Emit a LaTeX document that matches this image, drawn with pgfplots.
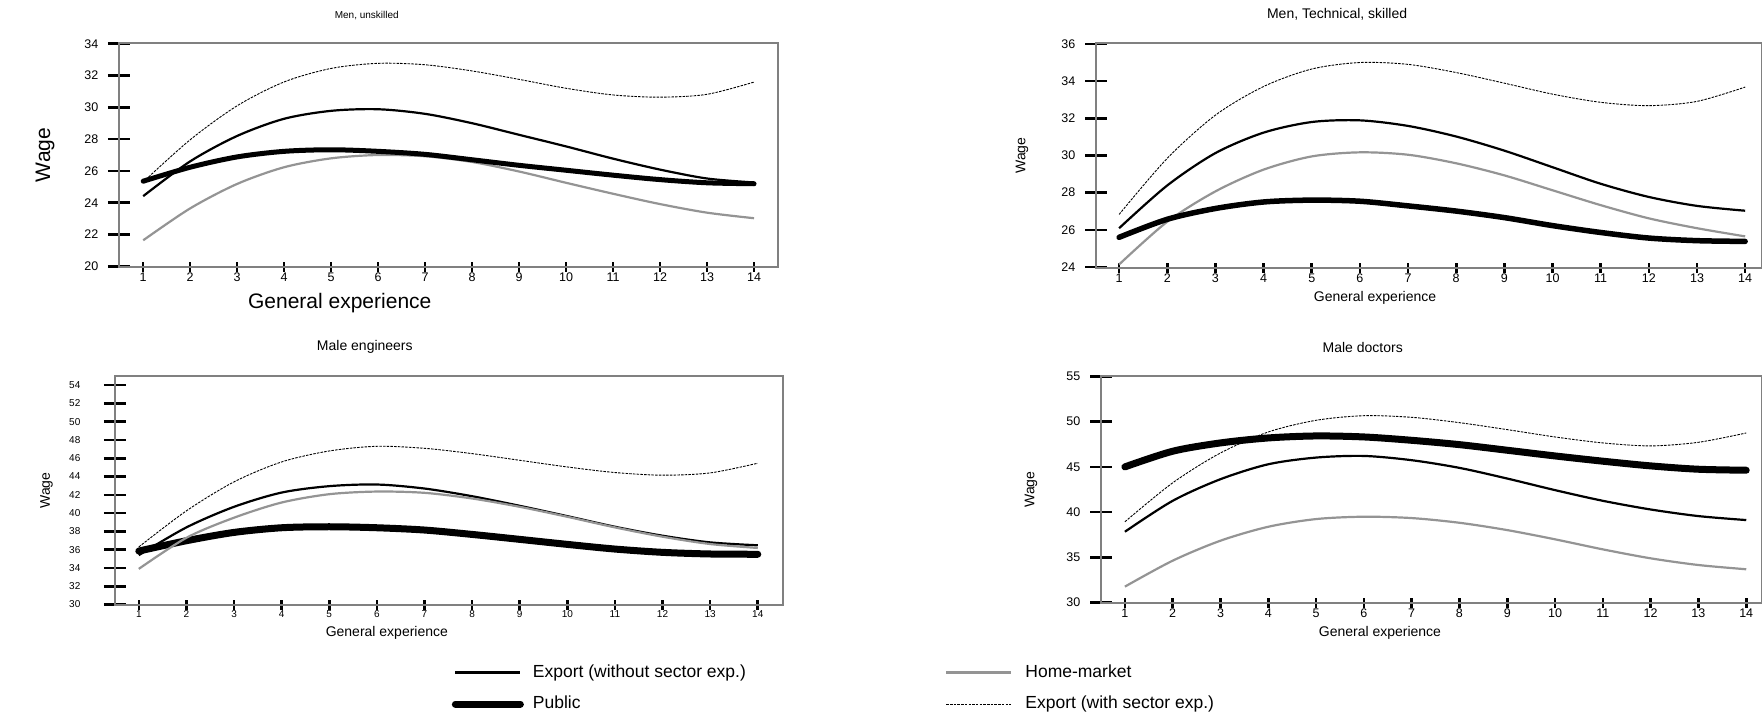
\documentclass[border=0pt]{standalone}
\usepackage{pgfplots}
\usepackage{pgfplotstable}
\usepackage{fontspec}
\setmainfont{Liberation Sans}
\pgfplotsset{compat=1.18}

\definecolor{axgray}{RGB}{128,128,128}
\definecolor{homegray}{RGB}{148,148,148}

% x = general experience; expwo = export (without sector exp.), pub = public,
% home = home-market, expw = export (with sector exp.)
\pgfplotstableread{
x  expwo pub   home  expw
1  24.41 25.35 21.63 25.30
2  26.60 26.23 23.64 27.96
3  28.20 26.88 25.18 30.10
4  29.28 27.23 26.23 31.60
5  29.78 27.33 26.79 32.45
6  29.88 27.23 27.00 32.77
7  29.59 27.04 26.92 32.68
8  29.00 26.70 26.56 32.29
9  28.27 26.35 25.96 31.76
10 27.54 26.04 25.25 31.20
11 26.77 25.73 24.56 30.78
12 26.08 25.45 23.91 30.64
13 25.52 25.25 23.37 30.82
14 25.27 25.19 23.02 31.59
}\unskilled

\pgfplotstableread{
x  expwo pub   home  expw
1  26.09 25.60 24.14 26.83
2  28.39 26.57 26.44 29.85
3  30.13 27.15 28.07 32.17
4  31.23 27.50 29.24 33.71
5  31.80 27.60 29.95 34.65
6  31.89 27.54 30.17 35.00
7  31.59 27.29 30.04 34.90
8  31.02 27.01 29.58 34.46
9  30.26 26.66 28.93 33.89
10 29.37 26.23 28.13 33.30
11 28.48 25.86 27.33 32.86
12 27.77 25.56 26.62 32.68
13 27.29 25.42 26.09 32.91
14 27.03 25.38 25.65 33.68
}\technical

\pgfplotstableread{
x  expwo pub   home  expw
1  35.40 35.85 33.90 36.30
2  38.44 36.98 37.30 40.25
3  40.69 37.89 39.50 43.42
4  42.25 38.40 41.16 45.60
5  42.95 38.51 42.07 46.80
6  43.13 38.40 42.36 47.31
7  42.69 38.15 42.22 47.09
8  41.85 37.67 41.60 46.51
9  40.80 37.13 40.69 45.78
10 39.67 36.58 39.60 45.05
11 38.51 36.07 38.44 44.44
12 37.53 35.71 37.42 44.15
13 36.80 35.53 36.62 44.40
14 36.48 35.50 36.19 45.46
}\engineers

\pgfplotstableread{
x  expwo pub   home  expw
1  37.83 45.00 31.76 38.93
2  41.25 46.73 34.63 43.24
3  43.64 47.65 36.84 46.54
4  45.29 48.20 38.38 48.86
5  46.03 48.42 39.23 50.15
6  46.21 48.31 39.49 50.66
7  45.74 47.94 39.34 50.48
8  44.89 47.46 38.82 49.89
9  43.71 46.84 38.01 49.12
10 42.43 46.21 36.99 48.31
11 41.25 45.63 35.88 47.65
12 40.29 45.11 34.89 47.32
13 39.56 44.74 34.15 47.72
14 39.12 44.63 33.68 48.75
}\doctors

\pgfplotsset{
  panel/.style={
    scale only axis,
    axis line style={draw=axgray, line width=1.4pt},
    tick align=center,
    xtick pos=left, ytick pos=left,
    hide obscured x ticks=false, hide obscured y ticks=false,
    xtick={1,...,14},
    xtick style={black, line width=2.6pt, /pgfplots/major tick length=10pt},
    ytick style={black, line width=2.6pt, /pgfplots/major tick length=22pt},
    /pgf/number format/assume math mode=true,
    tick label style={font=\fontsize{12.5}{14}\selectfont},
    yticklabel style={xshift=-15pt},
    every axis title shift=0pt,
    title style={anchor=center, font=\fontsize{14}{16}\selectfont},
    label style={anchor=center, font=\fontsize{14}{16}\selectfont},
    legend cell align=left,
    legend image code/.code={\draw[##1] (0pt,0pt) -- (65pt,0pt);},
    legend style={draw=none, fill=none, inner sep=0pt, anchor=north west,
      font=\fontsize{17.5}{20}\selectfont, row sep=15.5pt, column sep=16pt,
      nodes={inner sep=0pt, text height=12.6pt, text depth=3.5pt}},
  },
  expwo/.style={black, line width=2.2pt, smooth},
  home/.style={homegray, line width=2.2pt, smooth},
  expw/.style={black, line width=0.9pt, dash pattern=on 2.5pt off 1.2pt, smooth},
  pub/.style={black, line width=#1, line cap=round, smooth},
}

\begin{document}
\begin{tikzpicture}

% Men, unskilled
\begin{axis}[panel, at={(119pt,451pt)}, anchor=south west,
  width=659pt, height=224pt,
  xmin=0.485, xmax=14.51, ymin=19.95, ymax=34.05, ytick={20,22,...,34},
  title={Men, unskilled},
  title style={at={(axis description cs:0.376,1)}, yshift=27pt, font=\fontsize{10}{12}\selectfont},
  xlabel={General experience},
  xlabel style={at={(axis description cs:0.335,0)}, yshift=-36pt, font=\fontsize{21}{24}\selectfont},
  ylabel={Wage},
  ylabel style={at={(axis description cs:-0.112,0.5)}, font=\fontsize{21}{24}\selectfont},
]
\addplot[home] table[x=x, y=home] {\unskilled};
\addplot[expw] table[x=x, y=expw] {\unskilled};
\addplot[expwo] table[x=x, y=expwo] {\unskilled};
\addplot[pub=5pt] table[x=x, y=pub] {\unskilled};
\end{axis}

% Men, Technical, skilled
\begin{axis}[panel, at={(1096pt,450pt)}, anchor=south west,
  width=666pt, height=225pt,
  xmin=0.52, xmax=14.35, ymin=23.95, ymax=36.05, ytick={24,26,...,36},
  title={Men, Technical, skilled},
  title style={at={(axis description cs:0.362,1)}, yshift=29pt},
  xlabel={General experience},
  xlabel style={at={(axis description cs:0.419,0)}, yshift=-30pt},
  ylabel={Wage},
  ylabel style={at={(axis description cs:-0.111,0.5)}},
]
\addplot[home] table[x=x, y=home] {\technical};
\addplot[expw] table[x=x, y=expw] {\technical};
\addplot[expwo] table[x=x, y=expwo] {\technical};
\addplot[pub=5.5pt] table[x=x, y=pub] {\technical};
\end{axis}

% Male engineers
\begin{axis}[panel, at={(115pt,113pt)}, anchor=south west,
  width=668pt, height=229pt,
  xmin=0.5, xmax=14.53, ymin=29.95, ymax=55, ytick={30,32,...,54},
  tick label style={font=\fontsize{10}{12}\selectfont},
  yticklabel style={xshift=-14pt},
  title={Male engineers},
  title style={at={(axis description cs:0.374,1)}, yshift=29pt},
  xlabel={General experience},
  xlabel style={at={(axis description cs:0.407,0)}, yshift=-28pt},
  ylabel={Wage},
  ylabel style={at={(axis description cs:-0.1025,0.5)}},
  legend style={at={(axis description cs:0.504,-0.259)}, column sep=9pt},
]
\addplot[expwo] table[x=x, y=expwo] {\engineers};
\addlegendentry{Export (without sector exp.)}
\addplot[pub=7pt] table[x=x, y=pub] {\engineers};
\addlegendentry{Public}
\addplot[home, forget plot] table[x=x, y=home] {\engineers};
\addplot[expw, forget plot] table[x=x, y=expw] {\engineers};
\end{axis}

% Male doctors
\begin{axis}[panel, at={(1101pt,115pt)}, anchor=south west,
  width=661pt, height=227pt,
  xmin=0.5, xmax=14.33, ymin=29.95, ymax=55.05, ytick={30,35,...,55},
  title={Male doctors},
  title style={at={(axis description cs:0.396,1)}, yshift=29pt},
  xlabel={General experience},
  xlabel style={at={(axis description cs:0.422,0)}, yshift=-30pt},
  ylabel={Wage},
  ylabel style={at={(axis description cs:-0.106,0.5)}},
  legend style={at={(axis description cs:-0.236,-0.270)}, column sep=13pt},
]
\addplot[home] table[x=x, y=home] {\doctors};
\addlegendentry{Home-market}
\addplot[expw] table[x=x, y=expw] {\doctors};
\addlegendentry{Export (with sector exp.)}
\addplot[expwo, forget plot] table[x=x, y=expwo] {\doctors};
\addplot[pub=7pt, forget plot] table[x=x, y=pub] {\doctors};
\end{axis}

\pgfresetboundingbox
\useasboundingbox (0pt,0pt) rectangle (1762pt,718pt);
\end{tikzpicture}
\end{document}
